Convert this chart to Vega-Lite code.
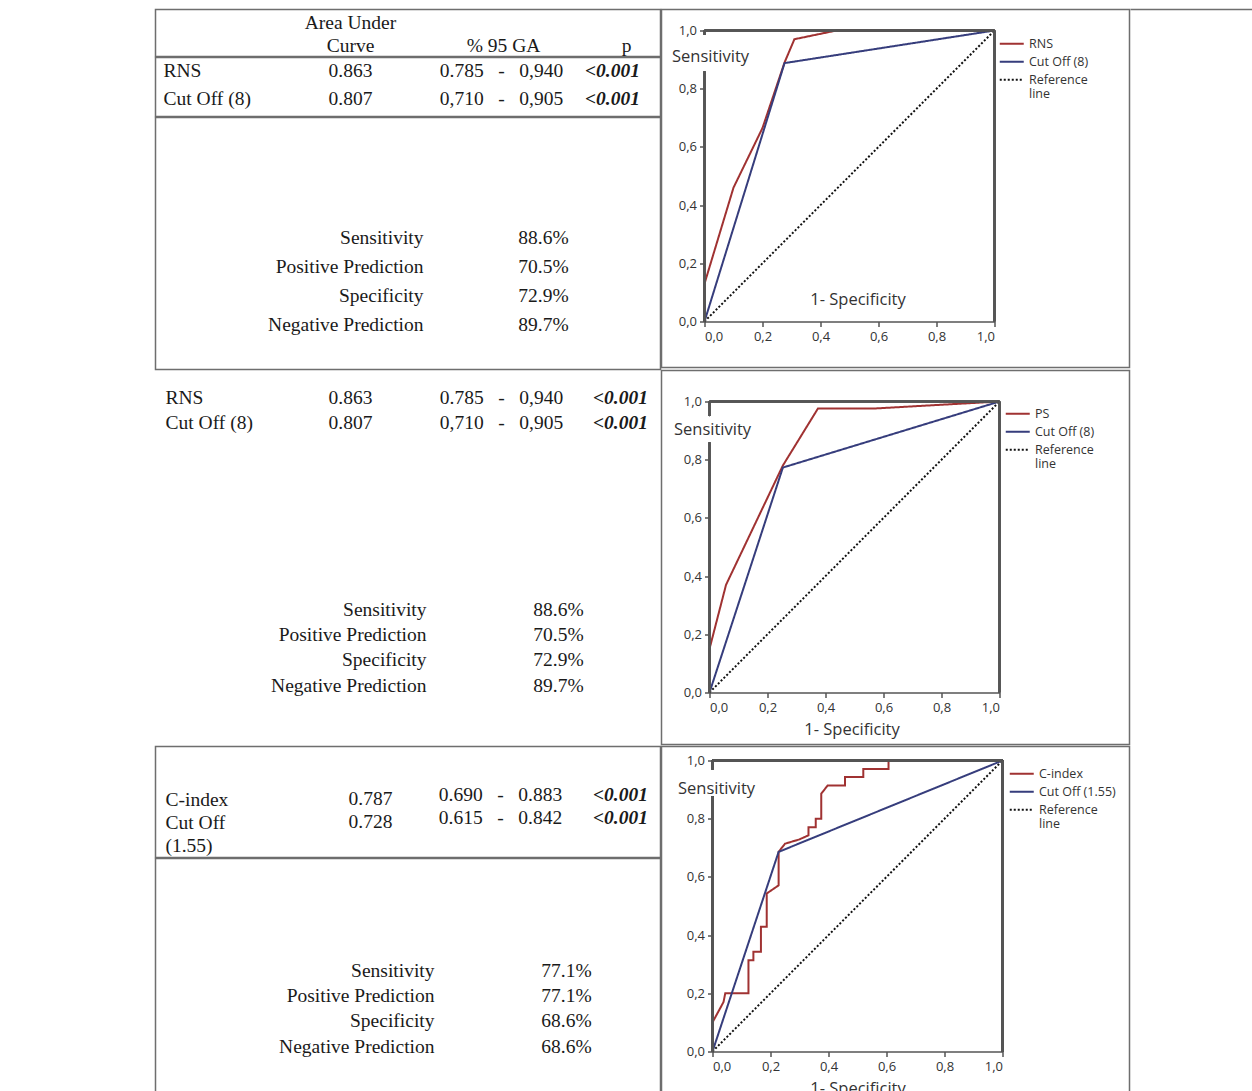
{
  "$schema": "https://vega.github.io/schema/vega-lite/v6.json",
  "padding": {"left": 7.5, "top": 8.5, "right": 0, "bottom": 0},
  "background": "white",
  "config": {
    "view": {"stroke": "#6e6e6e", "strokeWidth": 1.5},
    "text": {"font": "Liberation Serif", "fontSize": 19.5, "color": "#1a1a1a", "baseline": "middle"},
    "axis": {"grid": false, "labelFont": "Open Sans", "labelFontSize": 13, "labelColor": "#333", "titleFont": "Open Sans", "titleFontSize": 16.5, "titleFontWeight": "normal", "titleColor": "#333", "domainColor": "#555", "domainWidth": 1.5, "tickColor": "#555", "tickWidth": 1.5, "tickSize": 5},
    "legend": {"symbolType": "M-1,0H7", "symbolSize": 36, "symbolStrokeWidth": 2, "labelFont": "Open Sans", "labelFontSize": 12.5, "labelColor": "#333", "rowPadding": 5, "padding": 0, "labelOffset": 20}
  },
  "datasets": {
    "tab": [
      {"sec": "r1h", "line": 1, "col": 1, "text": "Area Under"},
      {"sec": "r1h", "line": 2, "col": 1, "text": "Curve"},
      {"sec": "r1h", "line": 2, "col": 2, "text": "% 95 GA"},
      {"sec": "r1h", "line": 2, "col": 3, "text": "p"},
      {"sec": "r1v", "line": 1, "col": 0, "text": "RNS"},
      {"sec": "r1v", "line": 1, "col": 1, "text": "0.863"},
      {"sec": "r1v", "line": 1, "col": 2, "text": "0.785\u00a0\u00a0 -\u00a0\u00a0 0,940"},
      {"sec": "r1v", "line": 1, "col": 3, "text": "<0.001"},
      {"sec": "r1v", "line": 2, "col": 0, "text": "Cut Off (8)"},
      {"sec": "r1v", "line": 2, "col": 1, "text": "0.807"},
      {"sec": "r1v", "line": 2, "col": 2, "text": "0,710\u00a0\u00a0 -\u00a0\u00a0 0,905"},
      {"sec": "r1v", "line": 2, "col": 3, "text": "<0.001"},
      {"sec": "r1s", "line": 1, "col": 4, "text": "Sensitivity"},
      {"sec": "r1s", "line": 1, "col": 5, "text": "88.6%"},
      {"sec": "r1s", "line": 2, "col": 4, "text": "Positive Prediction"},
      {"sec": "r1s", "line": 2, "col": 5, "text": "70.5%"},
      {"sec": "r1s", "line": 3, "col": 4, "text": "Specificity"},
      {"sec": "r1s", "line": 3, "col": 5, "text": "72.9%"},
      {"sec": "r1s", "line": 4, "col": 4, "text": "Negative Prediction"},
      {"sec": "r1s", "line": 4, "col": 5, "text": "89.7%"},
      {"sec": "r2v", "line": 1, "col": 0, "text": "RNS"},
      {"sec": "r2v", "line": 1, "col": 1, "text": "0.863"},
      {"sec": "r2v", "line": 1, "col": 2, "text": "0.785\u00a0\u00a0 -\u00a0\u00a0 0,940"},
      {"sec": "r2v", "line": 1, "col": 3, "text": "<0.001"},
      {"sec": "r2v", "line": 2, "col": 0, "text": "Cut Off (8)"},
      {"sec": "r2v", "line": 2, "col": 1, "text": "0.807"},
      {"sec": "r2v", "line": 2, "col": 2, "text": "0,710\u00a0\u00a0 -\u00a0\u00a0 0,905"},
      {"sec": "r2v", "line": 2, "col": 3, "text": "<0.001"},
      {"sec": "r2s", "line": 1, "col": 4, "text": "Sensitivity"},
      {"sec": "r2s", "line": 1, "col": 5, "text": "88.6%"},
      {"sec": "r2s", "line": 2, "col": 4, "text": "Positive Prediction"},
      {"sec": "r2s", "line": 2, "col": 5, "text": "70.5%"},
      {"sec": "r2s", "line": 3, "col": 4, "text": "Specificity"},
      {"sec": "r2s", "line": 3, "col": 5, "text": "72.9%"},
      {"sec": "r2s", "line": 4, "col": 4, "text": "Negative Prediction"},
      {"sec": "r2s", "line": 4, "col": 5, "text": "89.7%"},
      {"sec": "r3v", "line": 1, "col": 0, "text": "C-index"},
      {"sec": "r3v", "line": 1, "col": 1, "text": "0.787"},
      {"sec": "r3v", "line": 1, "col": 2, "text": "0.690\u00a0\u00a0 -\u00a0\u00a0 0.883"},
      {"sec": "r3v", "line": 1, "col": 3, "text": "<0.001"},
      {"sec": "r3v", "line": 2, "col": 0, "text": "Cut Off"},
      {"sec": "r3v", "line": 2, "col": 1, "text": "0.728"},
      {"sec": "r3v", "line": 2, "col": 2, "text": "0.615\u00a0\u00a0 -\u00a0\u00a0 0.842"},
      {"sec": "r3v", "line": 2, "col": 3, "text": "<0.001"},
      {"sec": "r3v", "line": 3, "col": 0, "text": "(1.55)"},
      {"sec": "r3s", "line": 1, "col": 4, "text": "Sensitivity"},
      {"sec": "r3s", "line": 1, "col": 5, "text": "77.1%"},
      {"sec": "r3s", "line": 2, "col": 4, "text": "Positive Prediction"},
      {"sec": "r3s", "line": 2, "col": 5, "text": "77.1%"},
      {"sec": "r3s", "line": 3, "col": 4, "text": "Specificity"},
      {"sec": "r3s", "line": 3, "col": 5, "text": "68.6%"},
      {"sec": "r3s", "line": 4, "col": 4, "text": "Negative Prediction"},
      {"sec": "r3s", "line": 4, "col": 5, "text": "68.6%"}
    ],
    "roc1": [
      {"series": "RNS", "i": 0, "fpr": 0, "tpr": 0},
      {"series": "RNS", "i": 1, "fpr": 0, "tpr": 0.13},
      {"series": "RNS", "i": 2, "fpr": 0.1, "tpr": 0.46},
      {"series": "RNS", "i": 3, "fpr": 0.2, "tpr": 0.665},
      {"series": "RNS", "i": 4, "fpr": 0.276, "tpr": 0.89},
      {"series": "RNS", "i": 5, "fpr": 0.31, "tpr": 0.97},
      {"series": "RNS", "i": 6, "fpr": 0.455, "tpr": 1},
      {"series": "RNS", "i": 7, "fpr": 1, "tpr": 1},
      {"series": "Cut Off (8)", "i": 0, "fpr": 0, "tpr": 0},
      {"series": "Cut Off (8)", "i": 1, "fpr": 0.276, "tpr": 0.888},
      {"series": "Cut Off (8)", "i": 2, "fpr": 1, "tpr": 1},
      {"series": "Reference line", "i": 0, "fpr": 0, "tpr": 0},
      {"series": "Reference line", "i": 1, "fpr": 1, "tpr": 1}
    ],
    "roc2": [
      {"series": "PS", "i": 0, "fpr": 0, "tpr": 0},
      {"series": "PS", "i": 1, "fpr": 0, "tpr": 0.15},
      {"series": "PS", "i": 2, "fpr": 0.057, "tpr": 0.37},
      {"series": "PS", "i": 3, "fpr": 0.253, "tpr": 0.78},
      {"series": "PS", "i": 4, "fpr": 0.374, "tpr": 0.976},
      {"series": "PS", "i": 5, "fpr": 0.57, "tpr": 0.976},
      {"series": "PS", "i": 6, "fpr": 1, "tpr": 1},
      {"series": "Cut Off (8)", "i": 0, "fpr": 0, "tpr": 0},
      {"series": "Cut Off (8)", "i": 1, "fpr": 0.253, "tpr": 0.773},
      {"series": "Cut Off (8)", "i": 2, "fpr": 1, "tpr": 1},
      {"series": "Reference line", "i": 0, "fpr": 0, "tpr": 0},
      {"series": "Reference line", "i": 1, "fpr": 1, "tpr": 1}
    ],
    "roc3": [
      {"series": "C-index", "i": 0, "fpr": 0, "tpr": 0},
      {"series": "C-index", "i": 1, "fpr": 0, "tpr": 0.1},
      {"series": "C-index", "i": 2, "fpr": 0.038, "tpr": 0.17},
      {"series": "C-index", "i": 3, "fpr": 0.044, "tpr": 0.2},
      {"series": "C-index", "i": 4, "fpr": 0.124, "tpr": 0.2},
      {"series": "C-index", "i": 5, "fpr": 0.124, "tpr": 0.314},
      {"series": "C-index", "i": 6, "fpr": 0.141, "tpr": 0.314},
      {"series": "C-index", "i": 7, "fpr": 0.141, "tpr": 0.343},
      {"series": "C-index", "i": 8, "fpr": 0.167, "tpr": 0.343},
      {"series": "C-index", "i": 9, "fpr": 0.167, "tpr": 0.429},
      {"series": "C-index", "i": 10, "fpr": 0.187, "tpr": 0.429},
      {"series": "C-index", "i": 11, "fpr": 0.187, "tpr": 0.543},
      {"series": "C-index", "i": 12, "fpr": 0.228, "tpr": 0.571},
      {"series": "C-index", "i": 13, "fpr": 0.228, "tpr": 0.686},
      {"series": "C-index", "i": 14, "fpr": 0.25, "tpr": 0.714},
      {"series": "C-index", "i": 15, "fpr": 0.3, "tpr": 0.729},
      {"series": "C-index", "i": 16, "fpr": 0.331, "tpr": 0.743},
      {"series": "C-index", "i": 17, "fpr": 0.331, "tpr": 0.771},
      {"series": "C-index", "i": 18, "fpr": 0.356, "tpr": 0.771},
      {"series": "C-index", "i": 19, "fpr": 0.356, "tpr": 0.8},
      {"series": "C-index", "i": 20, "fpr": 0.375, "tpr": 0.8},
      {"series": "C-index", "i": 21, "fpr": 0.375, "tpr": 0.886},
      {"series": "C-index", "i": 22, "fpr": 0.397, "tpr": 0.914},
      {"series": "C-index", "i": 23, "fpr": 0.457, "tpr": 0.914},
      {"series": "C-index", "i": 24, "fpr": 0.457, "tpr": 0.943},
      {"series": "C-index", "i": 25, "fpr": 0.52, "tpr": 0.943},
      {"series": "C-index", "i": 26, "fpr": 0.52, "tpr": 0.971},
      {"series": "C-index", "i": 27, "fpr": 0.607, "tpr": 0.971},
      {"series": "C-index", "i": 28, "fpr": 0.607, "tpr": 1},
      {"series": "C-index", "i": 29, "fpr": 1, "tpr": 1},
      {"series": "Cut Off (1.55)", "i": 0, "fpr": 0, "tpr": 0},
      {"series": "Cut Off (1.55)", "i": 1, "fpr": 0.228, "tpr": 0.686},
      {"series": "Cut Off (1.55)", "i": 2, "fpr": 1, "tpr": 1},
      {"series": "Reference line", "i": 0, "fpr": 0, "tpr": 0},
      {"series": "Reference line", "i": 1, "fpr": 1, "tpr": 1}
    ]
  },
  "spacing": -3,
  "resolve": {"scale": {"color": "independent", "strokeDash": "independent"}, "legend": {"color": "independent", "strokeDash": "independent"}},
  "hconcat": [
    {"width": 148, "height": 1092, "data": {"values": [{}]}, "mark": {"type": "text", "text": ""}},
    {
      "spacing": -3,
      "resolve": {"scale": {"color": "independent", "strokeDash": "independent"}, "legend": {"color": "independent", "strokeDash": "independent"}},
      "vconcat": [
        {
          "spacing": -3,
          "resolve": {"scale": {"color": "independent", "strokeDash": "independent"}, "legend": {"color": "independent", "strokeDash": "independent"}},
          "hconcat": [
            {
              "spacing": -3,
              "vconcat": [
                {
                  "width": 505, "height": 47,
                  "data": {"name": "tab"},
                  "transform": [{"filter": "datum.sec == 'r1h'"}],
                  "mark": {"type": "text", "align": "center"},
                  "encoding": {
                    "x": {"field": "col", "type": "quantitative", "axis": null, "scale": {"domain": [0, 1, 2, 3], "range": [8, 195, 348, 471], "nice": false, "zero": false}},
                    "y": {"field": "line", "type": "ordinal", "axis": null, "scale": {"type": "point", "range": [13, 36], "padding": 0}},
                    "text": {"field": "text"}
                  }
                },
                {
                  "width": 505, "height": 59,
                  "data": {"name": "tab"},
                  "transform": [{"filter": "datum.sec == 'r1v'"}],
                  "encoding": {
                    "x": {"field": "col", "type": "quantitative", "axis": null, "scale": {"domain": [0, 1, 2, 3, 4, 5], "range": [8, 195, 346, 457, 268, 388], "nice": false, "zero": false}},
                    "y": {"field": "line", "type": "ordinal", "axis": null, "scale": {"type": "point", "range": [13, 41], "padding": 0}},
                    "text": {"field": "text"}
                  },
                  "layer": [
                    {"transform": [{"filter": "datum.col == 0"}], "mark": {"type": "text", "align": "left"}},
                    {"transform": [{"filter": "datum.col == 1 || datum.col == 2"}], "mark": {"type": "text", "align": "center"}},
                    {"transform": [{"filter": "datum.col == 3"}], "mark": {"type": "text", "align": "center", "fontStyle": "italic", "fontWeight": "bold"}}
                  ]
                },
                {
                  "width": 505, "height": 252,
                  "data": {"name": "tab"},
                  "transform": [{"filter": "datum.sec == 'r1s'"}],
                  "encoding": {
                    "x": {"field": "col", "type": "quantitative", "axis": null, "scale": {"domain": [0, 1, 2, 3, 4, 5], "range": [8, 195, 346, 457, 268, 388], "nice": false, "zero": false}},
                    "y": {"field": "line", "type": "ordinal", "axis": null, "scale": {"type": "point", "range": [120, 207], "padding": 0}},
                    "text": {"field": "text"}
                  },
                  "layer": [
                    {"transform": [{"filter": "datum.col == 4"}], "mark": {"type": "text", "align": "right"}},
                    {"transform": [{"filter": "datum.col == 5"}], "mark": {"type": "text", "align": "center"}}
                  ]
                }
              ]
            },
            {
              "width": 468, "height": 358,
              "data": {"name": "roc1"},
              "layer": [
                {
                  "mark": {"type": "line", "strokeWidth": 2},
                  "encoding": {
                    "x": {"field": "fpr", "type": "quantitative", "scale": {"domain": [0, 1], "range": [43, 333], "nice": false, "zero": false},
                      "axis": {"offset": -46, "values": [0, 0.2, 0.4, 0.6, 0.8, 1], "labelExpr": "replace(format(datum.value, '.1f'), '.', ',')", "labelPadding": 4, "title": "1- Specificity", "titleX": 196, "titleY": -22, "titleAlign": "center", "titleBaseline": "middle"}},
                    "y": {"field": "tpr", "type": "quantitative", "scale": {"domain": [0, 1], "range": [312, 21], "nice": false, "zero": false},
                      "axis": {"offset": -43, "domain": false, "values": [0, 0.2, 0.4, 0.6, 0.8, 1], "labelExpr": "replace(format(datum.value, '.1f'), '.', ',')", "labelPadding": 3, "title": "Sensitivity", "titleAngle": 0, "titleX": -33, "titleY": 47, "titleAlign": "left", "titleBaseline": "middle"}},
                    "color": {"field": "series", "type": "nominal", "scale": {"domain": ["RNS", "Cut Off (8)", "Reference line"], "range": ["#a03232", "#363d7c", "#111111"]},
                      "legend": {"orient": "none", "legendX": 335, "legendY": 28, "title": null, "labelExpr": "datum.label == 'Reference line' ? ['Reference', 'line'] : datum.label"}},
                    "strokeDash": {"field": "series", "type": "nominal", "scale": {"domain": ["RNS", "Cut Off (8)", "Reference line"], "range": [[1, 0], [1, 0], [2, 2]]},
                      "legend": {"orient": "none", "legendX": 335, "legendY": 28, "title": null, "labelExpr": "datum.label == 'Reference line' ? ['Reference', 'line'] : datum.label"}},
                    "order": {"field": "i", "type": "quantitative"}
                  }
                },
                {"mark": {"type": "rule", "color": "#555", "strokeWidth": 1.5}, "encoding": {"x": {"datum": 0}, "y": {"datum": 0}, "y2": {"datum": 0.86}}},
                {"mark": {"type": "rule", "color": "#555", "strokeWidth": 1.5}, "encoding": {"x": {"datum": 0}, "y": {"datum": 0.985}, "y2": {"datum": 1}}},
                {"mark": {"type": "rule", "color": "#555", "strokeWidth": 1.5}, "encoding": {"x": {"datum": 0}, "x2": {"datum": 1}, "y": {"datum": 1}}},
                {"mark": {"type": "rule", "color": "#555", "strokeWidth": 1.5}, "encoding": {"x": {"datum": 1}, "y": {"datum": 0}, "y2": {"datum": 1}}}
              ]
            }
          ]
        },
        {
          "spacing": -3,
          "resolve": {"scale": {"color": "independent", "strokeDash": "independent"}, "legend": {"color": "independent", "strokeDash": "independent"}},
          "hconcat": [
            {
              "spacing": -3,
              "vconcat": [
                {
                  "width": 505, "height": 80,
                  "view": {"stroke": "transparent"},
                  "data": {"name": "tab"},
                  "transform": [{"filter": "datum.sec == 'r2v'"}],
                  "encoding": {
                    "x": {"field": "col", "type": "quantitative", "axis": null, "scale": {"domain": [0, 1, 2, 3, 4, 5], "range": [10, 195, 346, 465, 271, 403], "nice": false, "zero": false}},
                    "y": {"field": "line", "type": "ordinal", "axis": null, "scale": {"type": "point", "range": [27, 52], "padding": 0}},
                    "text": {"field": "text"}
                  },
                  "layer": [
                    {"transform": [{"filter": "datum.col == 0"}], "mark": {"type": "text", "align": "left"}},
                    {"transform": [{"filter": "datum.col == 1 || datum.col == 2"}], "mark": {"type": "text", "align": "center"}},
                    {"transform": [{"filter": "datum.col == 3"}], "mark": {"type": "text", "align": "center", "fontStyle": "italic", "fontWeight": "bold"}}
                  ]
                },
                {
                  "width": 505, "height": 294,
                  "view": {"stroke": "transparent"},
                  "data": {"name": "tab"},
                  "transform": [{"filter": "datum.sec == 'r2s'"}],
                  "encoding": {
                    "x": {"field": "col", "type": "quantitative", "axis": null, "scale": {"domain": [0, 1, 2, 3, 4, 5], "range": [10, 195, 346, 465, 271, 403], "nice": false, "zero": false}},
                    "y": {"field": "line", "type": "ordinal", "axis": null, "scale": {"type": "point", "range": [158, 234], "padding": 0}},
                    "text": {"field": "text"}
                  },
                  "layer": [
                    {"transform": [{"filter": "datum.col == 4"}], "mark": {"type": "text", "align": "right"}},
                    {"transform": [{"filter": "datum.col == 5"}], "mark": {"type": "text", "align": "center"}}
                  ]
                }
              ]
            },
            {
              "width": 468, "height": 374,
              "data": {"name": "roc2"},
              "layer": [
                {
                  "mark": {"type": "line", "strokeWidth": 2},
                  "encoding": {
                    "x": {"field": "fpr", "type": "quantitative", "scale": {"domain": [0, 1], "range": [48, 338], "nice": false, "zero": false},
                      "axis": {"offset": -52, "values": [0, 0.2, 0.4, 0.6, 0.8, 1], "labelExpr": "replace(format(datum.value, '.1f'), '.', ',')", "labelPadding": 4, "title": "1- Specificity", "titleX": 190, "titleY": 37, "titleAlign": "center", "titleBaseline": "middle"}},
                    "y": {"field": "tpr", "type": "quantitative", "scale": {"domain": [0, 1], "range": [322, 31], "nice": false, "zero": false},
                      "axis": {"offset": -48, "domain": false, "values": [0, 0.2, 0.4, 0.6, 0.8, 1], "labelExpr": "replace(format(datum.value, '.1f'), '.', ',')", "labelPadding": 3, "title": "Sensitivity", "titleAngle": 0, "titleX": -36, "titleY": 59, "titleAlign": "left", "titleBaseline": "middle"}},
                    "color": {"field": "series", "type": "nominal", "scale": {"domain": ["PS", "Cut Off (8)", "Reference line"], "range": ["#a03232", "#363d7c", "#111111"]},
                      "legend": {"orient": "none", "legendX": 341, "legendY": 37, "title": null, "labelExpr": "datum.label == 'Reference line' ? ['Reference', 'line'] : datum.label"}},
                    "strokeDash": {"field": "series", "type": "nominal", "scale": {"domain": ["PS", "Cut Off (8)", "Reference line"], "range": [[1, 0], [1, 0], [2, 2]]},
                      "legend": {"orient": "none", "legendX": 341, "legendY": 37, "title": null, "labelExpr": "datum.label == 'Reference line' ? ['Reference', 'line'] : datum.label"}},
                    "order": {"field": "i", "type": "quantitative"}
                  }
                },
                {"mark": {"type": "rule", "color": "#555", "strokeWidth": 1.5}, "encoding": {"x": {"datum": 0}, "y": {"datum": 0}, "y2": {"datum": 0.86}}},
                {"mark": {"type": "rule", "color": "#555", "strokeWidth": 1.5}, "encoding": {"x": {"datum": 0}, "y": {"datum": 0.95}, "y2": {"datum": 1}}},
                {"mark": {"type": "rule", "color": "#555", "strokeWidth": 1.5}, "encoding": {"x": {"datum": 0}, "x2": {"datum": 1}, "y": {"datum": 1}}},
                {"mark": {"type": "rule", "color": "#555", "strokeWidth": 1.5}, "encoding": {"x": {"datum": 1}, "y": {"datum": 0}, "y2": {"datum": 1}}}
              ]
            }
          ]
        },
        {
          "spacing": -3,
          "resolve": {"scale": {"color": "independent", "strokeDash": "independent"}, "legend": {"color": "independent", "strokeDash": "independent"}},
          "hconcat": [
            {
              "spacing": -3,
              "vconcat": [
                {
                  "width": 505, "height": 111,
                  "data": {"name": "tab"},
                  "transform": [{"filter": "datum.sec == 'r3v'"}],
                  "encoding": {
                    "x": {"field": "col", "type": "quantitative", "axis": null, "scale": {"domain": [0, 1, 2, 3, 4, 5], "range": [10, 215, 345, 465, 279, 411], "nice": false, "zero": false}},
                    "y": {"field": "line", "type": "ordinal", "axis": null, "scale": {"type": "point", "range": [53, 99], "padding": 0}},
                    "text": {"field": "text"}
                  },
                  "layer": [
                    {"transform": [{"filter": "datum.col == 0"}], "mark": {"type": "text", "align": "left"}},
                    {"transform": [{"filter": "datum.col == 1"}], "mark": {"type": "text", "align": "center", "dy": -1}},
                    {"transform": [{"filter": "datum.col == 2"}], "mark": {"type": "text", "align": "center", "dy": -5}},
                    {"transform": [{"filter": "datum.col == 3"}], "mark": {"type": "text", "align": "center", "dy": -5, "fontStyle": "italic", "fontWeight": "bold"}}
                  ]
                },
                {
                  "width": 505, "height": 249,
                  "data": {"name": "tab"},
                  "transform": [{"filter": "datum.sec == 'r3s'"}],
                  "encoding": {
                    "x": {"field": "col", "type": "quantitative", "axis": null, "scale": {"domain": [0, 1, 2, 3, 4, 5], "range": [10, 215, 345, 465, 279, 411], "nice": false, "zero": false}},
                    "y": {"field": "line", "type": "ordinal", "axis": null, "scale": {"type": "point", "range": [112, 188], "padding": 0}},
                    "text": {"field": "text"}
                  },
                  "layer": [
                    {"transform": [{"filter": "datum.col == 4"}], "mark": {"type": "text", "align": "right"}},
                    {"transform": [{"filter": "datum.col == 5"}], "mark": {"type": "text", "align": "center"}}
                  ]
                }
              ]
            },
            {
              "width": 468, "height": 360,
              "data": {"name": "roc3"},
              "layer": [
                {
                  "mark": {"type": "line", "strokeWidth": 2},
                  "encoding": {
                    "x": {"field": "fpr", "type": "quantitative", "scale": {"domain": [0, 1], "range": [51, 341], "nice": false, "zero": false},
                      "axis": {"offset": -55, "values": [0, 0.2, 0.4, 0.6, 0.8, 1], "labelExpr": "replace(format(datum.value, '.1f'), '.', ',')", "labelPadding": 4, "title": "1- Specificity", "titleX": 196, "titleY": 37, "titleAlign": "center", "titleBaseline": "middle"}},
                    "y": {"field": "tpr", "type": "quantitative", "scale": {"domain": [0, 1], "range": [305, 14], "nice": false, "zero": false},
                      "axis": {"offset": -51, "domain": false, "values": [0, 0.2, 0.4, 0.6, 0.8, 1], "labelExpr": "replace(format(datum.value, '.1f'), '.', ',')", "labelPadding": 3, "title": "Sensitivity", "titleAngle": 0, "titleX": -35, "titleY": 42, "titleAlign": "left", "titleBaseline": "middle"}},
                    "color": {"field": "series", "type": "nominal", "scale": {"domain": ["C-index", "Cut Off (1.55)", "Reference line"], "range": ["#a03232", "#363d7c", "#111111"]},
                      "legend": {"orient": "none", "legendX": 345, "legendY": 21, "title": null, "labelExpr": "datum.label == 'Reference line' ? ['Reference', 'line'] : datum.label"}},
                    "strokeDash": {"field": "series", "type": "nominal", "scale": {"domain": ["C-index", "Cut Off (1.55)", "Reference line"], "range": [[1, 0], [1, 0], [2, 2]]},
                      "legend": {"orient": "none", "legendX": 345, "legendY": 21, "title": null, "labelExpr": "datum.label == 'Reference line' ? ['Reference', 'line'] : datum.label"}},
                    "order": {"field": "i", "type": "quantitative"}
                  }
                },
                {"mark": {"type": "rule", "color": "#555", "strokeWidth": 1.5}, "encoding": {"x": {"datum": 0}, "y": {"datum": 0}, "y2": {"datum": 0.876}}},
                {"mark": {"type": "rule", "color": "#555", "strokeWidth": 1.5}, "encoding": {"x": {"datum": 0}, "y": {"datum": 0.97}, "y2": {"datum": 1}}},
                {"mark": {"type": "rule", "color": "#555", "strokeWidth": 1.5}, "encoding": {"x": {"datum": 0}, "x2": {"datum": 1}, "y": {"datum": 1}}},
                {"mark": {"type": "rule", "color": "#555", "strokeWidth": 1.5}, "encoding": {"x": {"datum": 1}, "y": {"datum": 0}, "y2": {"datum": 1}}}
              ]
            }
          ]
        }
      ]
    },
    {
      "width": 124, "height": 1092,
      "view": {"stroke": null},
      "data": {"values": [{}]},
      "mark": {"type": "rule", "color": "#6e6e6e", "strokeWidth": 1.5},
      "encoding": {"y": {"datum": 1, "scale": {"domain": [0, 1]}, "axis": null}}
    }
  ]
}
